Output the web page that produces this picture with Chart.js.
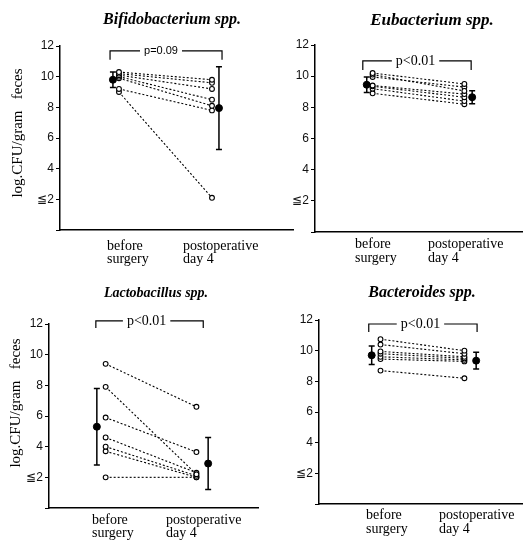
<!DOCTYPE html>
<html>
<head>
<meta charset="utf-8">
<script src="https://cdn.jsdelivr.net/npm/chart.js@4.4.1/dist/chart.umd.min.js"></script>
<style>
  body { margin: 0; background: #fff; }
  #wrap { position: relative; width: 528px; height: 542px; overflow: hidden; }
  canvas { position: absolute; }
</style>
</head>
<body>
<div id="wrap">
  <canvas id="bifido" width="300" height="271" style="left:0;top:0"></canvas>
  <canvas id="eubac" width="264" height="271" style="left:264px;top:0"></canvas>
  <canvas id="lacto" width="264" height="271" style="left:0;top:271px"></canvas>
  <canvas id="bacter" width="264" height="271" style="left:264px;top:271px"></canvas>
</div>
<script>
// y ticks (0 is left without a label)
const yTickValues = [0, 2, 4, 6, 8, 10, 12]
const yTickLabels = ["", "≦2", "4", "6", "8", "10", "12"]
const groupLabels = [["before", "surgery"], ["postoperative", "day 4"]]
const yAxisLabel = "log.CFU/gram   feces"

// Bifidobacterium spp.
const bifidoBefore = [10.3, 10.2, 10.1, 10.0, 9.9, 9.2, 9.0]
const bifidoAfter = [9.8, 9.6, 9.2, 8.5, 8.1, 7.8, 2.1]
const bifidoMean = [9.8, 7.95]
const bifidoSD = [0.5, 2.7]

// Eubacterium spp.
const eubacBefore = [10.2, 10.1, 9.95, 9.4, 9.35, 9.2, 8.9]
const eubacAfter = [9.5, 9.05, 9.3, 8.85, 8.65, 8.4, 8.2]
const eubacMean = [9.45, 8.65]
const eubacSD = [0.5, 0.42]

// Lactobacillus spp.
const lactoBefore = [9.4, 7.9, 5.9, 4.6, 4.0, 3.7, 2.0]
const lactoAfter = [6.6, 2.2, 3.65, 2.3, 2.1, 2.0, 2.0]
const lactoMean = [5.3, 2.9]
const lactoSD = [2.5, 1.7]

// Bacteroides spp.
const bacterBefore = [10.75, 10.4, 9.95, 9.8, 9.6, 9.45, 8.7]
const bacterAfter = [10.0, 9.8, 9.6, 9.5, 9.4, 9.3, 8.2]
const bacterMean = [9.7, 9.35]
const bacterSD = [0.6, 0.55]

const panels = [
  {
    id: "bifido", title: "Bifidobacterium spp.", titleSize: 16, titleX: 172, titleY: 20,
    before: bifidoBefore, after: bifidoAfter, mean: bifidoMean, sd: bifidoSD,
    p: "p=0.09", pFont: "11px 'Liberation Sans', Arial, sans-serif",
    axisWidth: 60, pad: { left: 0, right: 7, top: 46, bottom: 41 },
    xMin: 0.366, xMax: 2.871, meanShift: [-0.065, 0.075],
    bracket: { x0: 0.904, x1: 2.108, y: 11.68, drop: 0.58, tx: 1.452 },
    labelX: [107, 183], labelY: [250, 263], yLabel: { x: 18, y: 133 },
  },
  {
    id: "eubac", title: "Eubacterium spp.", titleSize: 17, titleX: 168, titleY: 21,
    before: eubacBefore, after: eubacAfter, mean: eubacMean, sd: eubacSD,
    p: "p<0.01", pFont: "14px 'Liberation Serif', serif",
    axisWidth: 51, pad: { left: 0, right: 0, top: 45, bottom: 39 },
    xMin: 0.372, xMax: 2.638, meanShift: [-0.064, 0.085],
    bracket: { x0: 0.893, x1: 2.074, y: 10.98, drop: 0.58, tx: 1.468 },
    labelX: [91, 164], labelY: [248, 262], yLabel: null,
  },
  {
    id: "lacto", title: "Lactobacillus spp.", titleSize: 14, titleX: 156, titleY: 22,
    before: lactoBefore, after: lactoAfter, mean: lactoMean, sd: lactoSD,
    p: "p<0.01", pFont: "14px 'Liberation Serif', serif",
    axisWidth: 49, pad: { left: 0, right: 2, top: 53, bottom: 34 },
    xMin: 0.376, xMax: 2.688, meanShift: [-0.097, 0.129],
    bracket: { x0: 0.892, x1: 2.075, y: 12.2, drop: 0.46, tx: 1.451 },
    labelX: [92, 166], labelY: [253, 266], yLabel: { x: 16, y: 132 },
  },
  {
    id: "bacter", title: "Bacteroides spp.", titleSize: 16, titleX: 158, titleY: 22,
    before: bacterBefore, after: bacterAfter, mean: bacterMean, sd: bacterSD,
    p: "p<0.01", pFont: "14px 'Liberation Serif', serif",
    axisWidth: 55, pad: { left: 0, right: 0, top: 49, bottom: 38 },
    xMin: 0.267, xMax: 2.697, meanShift: [-0.105, 0.14],
    bracket: { x0: 0.86, x1: 2.151, y: 11.74, drop: 0.52, tx: 1.476 },
    labelX: [102, 175], labelY: [248, 262], yLabel: null,
  },
]

// draws title, axis label, p-value bracket, group labels and error bars
const decorPlugin = {
  id: "decor",
  beforeDatasetsDraw(chart) {
    const cfg = chart.options.plugins.decor
    const ctx = chart.ctx
    const x = chart.scales.x
    const y = chart.scales.y
    const meanMeta = chart.getDatasetMeta(chart.data.datasets.length - 1)

    ctx.save()
    ctx.strokeStyle = "#000"
    ctx.lineWidth = 1.5
    meanMeta.data.forEach((pt, i) => {
      const top = y.getPixelForValue(cfg.mean[i] + cfg.sd[i])
      const bot = y.getPixelForValue(cfg.mean[i] - cfg.sd[i])
      ctx.beginPath()
      ctx.moveTo(pt.x, top)
      ctx.lineTo(pt.x, bot)
      ctx.moveTo(pt.x - 3, top)
      ctx.lineTo(pt.x + 3, top)
      ctx.moveTo(pt.x - 3, bot)
      ctx.lineTo(pt.x + 3, bot)
      ctx.stroke()
    })
    ctx.restore()
  },
  afterDraw(chart) {
    const cfg = chart.options.plugins.decor
    const ctx = chart.ctx
    const x = chart.scales.x
    const y = chart.scales.y
    ctx.save()
    ctx.fillStyle = "#000"
    ctx.strokeStyle = "#000"

    // title
    ctx.font = `italic bold ${cfg.titleSize}px 'Liberation Serif', 'Times New Roman', serif`
    ctx.textAlign = "center"
    ctx.textBaseline = "middle"
    ctx.fillText(cfg.title, cfg.titleX, cfg.titleY)

    // y axis label
    if (cfg.yLabel) {
      ctx.save()
      ctx.translate(cfg.yLabel.x, cfg.yLabel.y)
      ctx.rotate(-Math.PI / 2)
      ctx.font = "15px 'Liberation Serif', 'Times New Roman', serif"
      ctx.fillText(yAxisLabel, 0, 0)
      ctx.restore()
    }

    // bracket with p value
    const b = cfg.bracket
    const bx0 = x.getPixelForValue(b.x0)
    const bx1 = x.getPixelForValue(b.x1)
    const by = y.getPixelForValue(b.y)
    const bd = y.getPixelForValue(b.y - b.drop)
    const tx = x.getPixelForValue(b.tx)
    ctx.font = cfg.pFont
    const tw = ctx.measureText(cfg.p).width
    ctx.lineWidth = 1.2
    ctx.beginPath()
    ctx.moveTo(bx0, bd)
    ctx.lineTo(bx0, by)
    ctx.lineTo(tx - tw / 2 - 4, by)
    ctx.moveTo(tx + tw / 2 + 4, by)
    ctx.lineTo(bx1, by)
    ctx.lineTo(bx1, bd)
    ctx.stroke()
    ctx.fillText(cfg.p, tx, by)

    // group labels under the axis
    ctx.font = "14px 'Liberation Serif', 'Times New Roman', serif"
    ctx.textAlign = "left"
    ctx.textBaseline = "alphabetic"
    groupLabels.forEach((lines, g) => {
      lines.forEach((line, k) => {
        ctx.fillText(line, cfg.labelX[g], cfg.labelY[k])
      })
    })
    ctx.restore()
  },
}

function buildChart(panel) {
  const subjects = panel.before.map((v, i) => ({
    type: "line",
    data: [{ x: 1, y: v }, { x: 2, y: panel.after[i] }],
    borderColor: "#000",
    borderWidth: 1.1,
    borderDash: [2, 2],
    pointRadius: 2.4,
    pointBorderWidth: 1.1,
    pointBackgroundColor: "#fff",
    pointBorderColor: "#000",
    fill: false,
  }))

  const means = {
    type: "scatter",
    data: panel.mean.map((m, i) => ({ x: i + 1 + panel.meanShift[i], y: m })),
    pointRadius: 3.5,
    pointBackgroundColor: "#000",
    pointBorderColor: "#000",
    showLine: false,
  }

  new Chart(document.getElementById(panel.id), {
    type: "line",
    data: { datasets: [...subjects, means] },
    options: {
      responsive: false,
      animation: false,
      events: [],
      layout: { padding: panel.pad },
      plugins: {
        legend: { display: false },
        tooltip: { enabled: false },
        decor: panel,
      },
      scales: {
        x: {
          type: "linear",
          min: panel.xMin,
          max: panel.xMax,
          ticks: { display: false },
          grid: { display: false, drawTicks: false },
          border: { display: true, color: "#000", width: 1.5 },
          afterFit: (s) => { s.height = 0 },
        },
        y: {
          type: "linear",
          min: 0,
          max: 12,
          afterBuildTicks: (s) => { s.ticks = yTickValues.map((v) => ({ value: v })) },
          ticks: {
            color: "#111",
            padding: 2,
            font: { family: "'Liberation Sans', Arial, sans-serif", size: 12 },
            callback: (value) => yTickLabels[yTickValues.indexOf(value)],
          },
          grid: { drawOnChartArea: false, drawTicks: true, tickLength: 4, color: "#000", lineWidth: 1 },
          border: { display: true, color: "#000", width: 1.5 },
          afterFit: (s) => { s.width = panel.axisWidth },
        },
      },
    },
    plugins: [decorPlugin],
  })
}

panels.forEach(buildChart)
</script>
</body>
</html>
